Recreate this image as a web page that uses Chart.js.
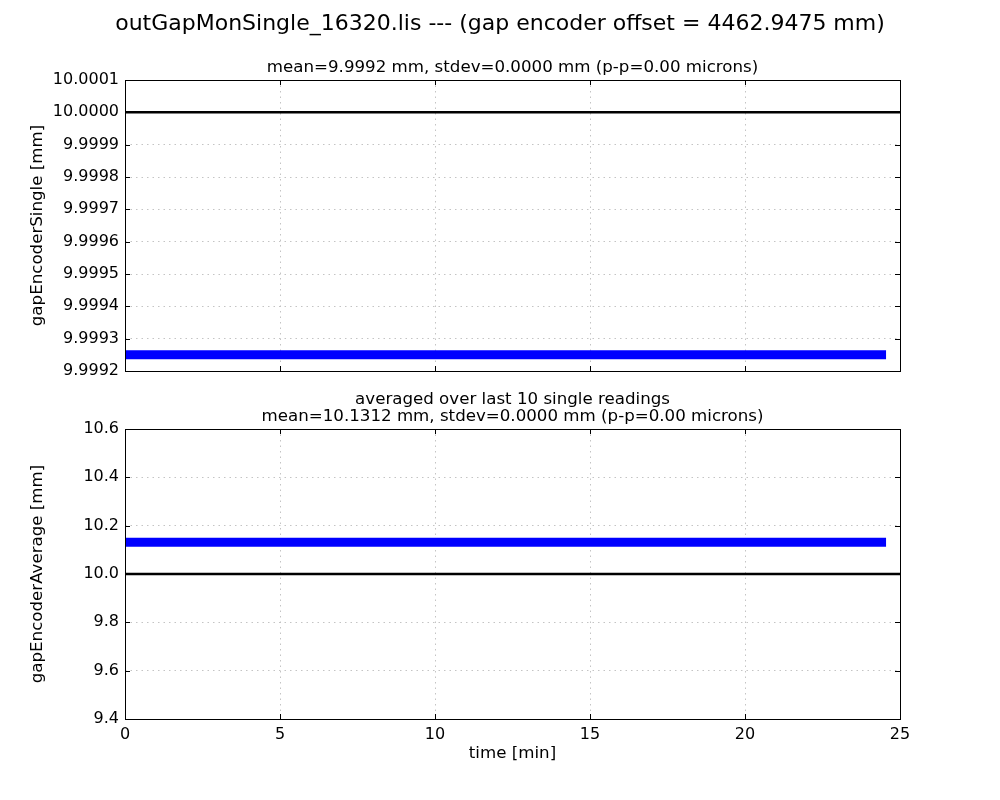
<!DOCTYPE html>
<html>
<head>
<meta charset="utf-8">
<script src="https://cdn.jsdelivr.net/npm/chart.js@4.4.1/dist/chart.umd.min.js"></script>
<style>
  body { margin: 0; background: #ffffff; }
  .box { position: absolute; left: 0; width: 1000px; }
</style>
</head>
<body>
<div class="box" style="top:0;height:390px"><canvas id="topChart" width="1000" height="390"></canvas></div>
<div class="box" style="top:380px;height:420px"><canvas id="bottomChart" width="1000" height="420"></canvas></div>
<script>
// data
const singleTime = [0, 24.55];
const singleValue = [9.99925, 9.99925];
const averageTime = [0, 24.55];
const averageValue = [10.1312, 10.1312];
const refTime = [0, 25];
const refValue = [10.0, 10.0];

const timeTicks = [0, 5, 10, 15, 20, 25];
const singleTicks = [9.9992, 9.9993, 9.9994, 9.9995, 9.9996, 9.9997, 9.9998, 9.9999, 10.0000, 10.0001];
const averageTicks = [9.4, 9.6, 9.8, 10.0, 10.2, 10.4, 10.6];

const FONT = "'DejaVu Sans', sans-serif";
Chart.defaults.font.family = FONT;
Chart.defaults.color = "#000000";

function pts(xs, ys) {
  return xs.map((x, i) => ({ x: x, y: ys[i] }));
}

// matplotlib-like frame with inward ticks
const framePlugin = {
  id: "frame",
  afterDraw(chart) {
    const { ctx, chartArea: a, scales } = chart;
    ctx.save();
    ctx.strokeStyle = "#000";
    ctx.lineWidth = 1;
    ctx.beginPath();
    scales.x.ticks.forEach(t => {
      const px = Math.round(scales.x.getPixelForValue(t.value)) + 0.5;
      ctx.moveTo(px, a.top); ctx.lineTo(px, a.top + 5);
      ctx.moveTo(px, a.bottom); ctx.lineTo(px, a.bottom - 5);
    });
    scales.y.ticks.forEach(t => {
      const py = Math.round(scales.y.getPixelForValue(t.value)) + 0.5;
      ctx.moveTo(a.left, py); ctx.lineTo(a.left + 5, py);
      ctx.moveTo(a.right, py); ctx.lineTo(a.right - 5, py);
    });
    ctx.stroke();
    ctx.strokeRect(Math.round(a.left) + 0.5, Math.round(a.top) + 0.5,
      Math.round(a.right - a.left), Math.round(a.bottom - a.top));
    ctx.restore();
  }
};

function makeChart(id, opts) {
  return new Chart(document.getElementById(id).getContext("2d"), {
    type: "line",
    data: {
      datasets: [
        {
          data: pts(opts.time, opts.values),
          borderColor: "#0000ff",
          borderWidth: 9,
          pointRadius: 0,
          borderCapStyle: "butt"
        },
        {
          data: pts(refTime, refValue),
          borderColor: "#000000",
          borderWidth: 2.5,
          pointRadius: 0
        }
      ]
    },
    options: {
      responsive: false,
      animation: false,
      layout: { padding: opts.padding },
      plugins: {
        legend: { display: false },
        tooltip: { enabled: false },
        title: opts.title,
        subtitle: opts.subtitle
      },
      scales: {
        x: {
          type: "linear",
          min: 0,
          max: 25,
          afterBuildTicks: s => { s.ticks = timeTicks.map(v => ({ value: v })); },
          afterFit: s => { s.height = opts.xHeight; },
          grid: { color: "#c4c4c4", drawTicks: false },
          border: { display: false, dash: [1.5, 4] },
          ticks: { display: opts.showX, padding: 6, font: { size: 16 } },
          title: {
            display: opts.showX,
            text: "time [min]",
            font: { size: 16.67, lineHeight: 1.2 },
            padding: { top: 0, bottom: 36 }
          }
        },
        y: {
          type: "linear",
          min: opts.yTicks[0],
          max: opts.yTicks[opts.yTicks.length - 1],
          afterBuildTicks: s => { s.ticks = opts.yTicks.map(v => ({ value: v })); },
          afterFit: s => { s.width = 125; },
          grid: { color: "#c4c4c4", drawTicks: false },
          border: { display: false, dash: [1.5, 4] },
          ticks: {
            padding: 6,
            font: { size: 16 },
            callback: v => v.toFixed(opts.decimals)
          },
          title: {
            display: true,
            text: opts.yTitle,
            font: { size: 16.67, lineHeight: 1.2 },
            padding: { top: 28, bottom: 0 }
          }
        },
        // empty right margin, so the figure title centres on the whole page
        yRight: {
          type: "linear",
          position: "right",
          afterFit: s => { s.width = 100; },
          grid: { display: false, drawTicks: false },
          border: { display: false },
          ticks: { display: false }
        }
      }
    },
    plugins: [framePlugin]
  });
}

makeChart("topChart", {
  time: singleTime,
  values: singleValue,
  yTicks: singleTicks,
  decimals: 4,
  yTitle: "gapEncoderSingle [mm]",
  showX: false,
  xHeight: 0,
  padding: { left: 0, right: 0, top: 0, bottom: 19 },
  title: {
    display: true,
    text: "outGapMonSingle_16320.lis --- (gap encoder offset = 4462.9475 mm)",
    font: { size: 22, weight: "normal", lineHeight: 1.2 },
    padding: { top: 11, bottom: 0 }
  },
  subtitle: {
    display: true,
    fullSize: false,
    text: "mean=9.9992 mm, stdev=0.0000 mm (p-p=0.00 microns)",
    font: { size: 16.67, lineHeight: 1.2 },
    color: "#000",
    padding: { top: 20.6, bottom: 2 }
  }
});

makeChart("bottomChart", {
  time: averageTime,
  values: averageValue,
  yTicks: averageTicks,
  decimals: 1,
  yTitle: "gapEncoderAverage [mm]",
  showX: true,
  xHeight: 81,
  padding: { left: 0, right: 0, top: 0, bottom: 0 },
  title: {
    display: true,
    fullSize: false,
    text: "averaged over last 10 single readings",
    font: { size: 16.67, weight: "normal", lineHeight: 1.0 },
    padding: { top: 11.67, bottom: 0 }
  },
  subtitle: {
    display: true,
    fullSize: false,
    text: "mean=10.1312 mm, stdev=0.0000 mm (p-p=0.00 microns)",
    font: { size: 16.67, lineHeight: 1.0 },
    color: "#000",
    padding: { top: 0.33, bottom: 3.67 }
  }
});
</script>
</body>
</html>
